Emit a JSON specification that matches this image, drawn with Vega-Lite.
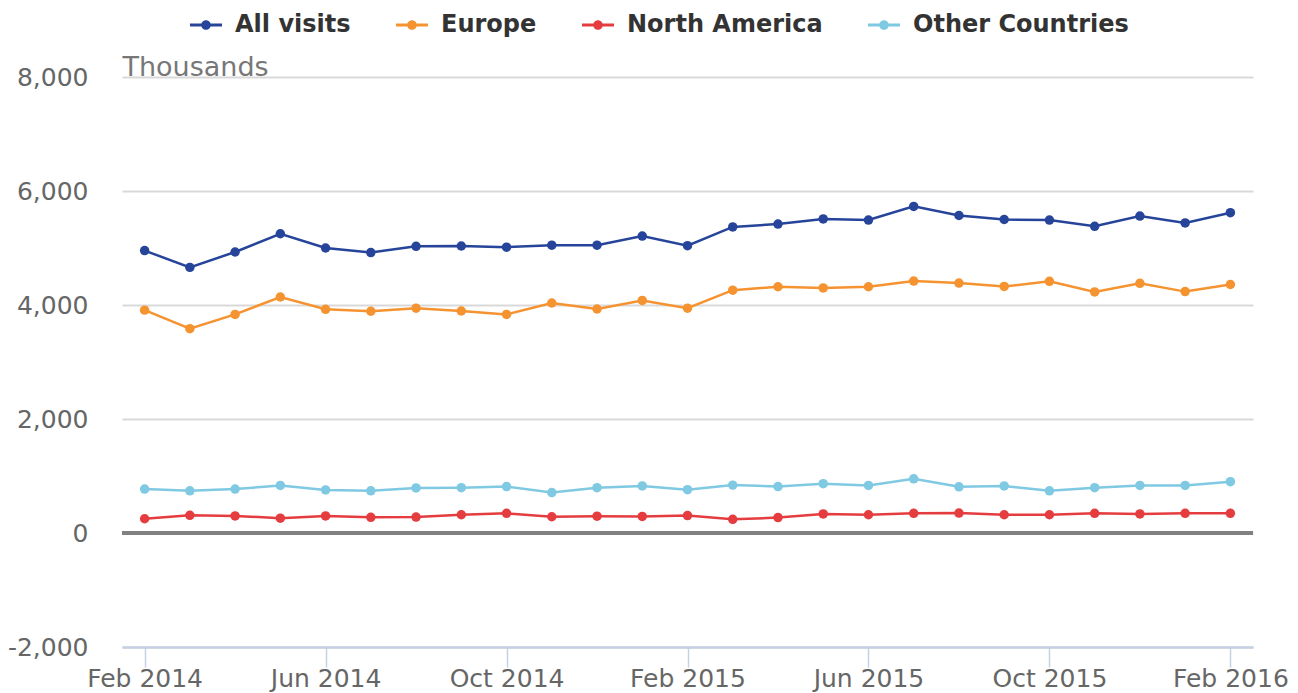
{
  "$schema": "https://vega.github.io/schema/vega-lite/v6.json",
  "width": 1131,
  "height": 570,
  "autosize": "none",
  "padding": {"left": 122, "top": 77, "right": 45, "bottom": 46},
  "config": {
    "font": "DejaVu Sans",
    "view": {"stroke": null}
  },
  "datasets": {
    "visits": [
      {"month": "Feb 2014", "series": "All visits", "value": 4955},
      {"month": "Mar 2014", "series": "All visits", "value": 4660},
      {"month": "Apr 2014", "series": "All visits", "value": 4930},
      {"month": "May 2014", "series": "All visits", "value": 5250},
      {"month": "Jun 2014", "series": "All visits", "value": 5000},
      {"month": "Jul 2014", "series": "All visits", "value": 4920},
      {"month": "Aug 2014", "series": "All visits", "value": 5030},
      {"month": "Sep 2014", "series": "All visits", "value": 5035},
      {"month": "Oct 2014", "series": "All visits", "value": 5015},
      {"month": "Nov 2014", "series": "All visits", "value": 5050},
      {"month": "Dec 2014", "series": "All visits", "value": 5050},
      {"month": "Jan 2015", "series": "All visits", "value": 5210},
      {"month": "Feb 2015", "series": "All visits", "value": 5040},
      {"month": "Mar 2015", "series": "All visits", "value": 5370},
      {"month": "Apr 2015", "series": "All visits", "value": 5420},
      {"month": "May 2015", "series": "All visits", "value": 5510},
      {"month": "Jun 2015", "series": "All visits", "value": 5490},
      {"month": "Jul 2015", "series": "All visits", "value": 5730},
      {"month": "Aug 2015", "series": "All visits", "value": 5570},
      {"month": "Sep 2015", "series": "All visits", "value": 5500},
      {"month": "Oct 2015", "series": "All visits", "value": 5490},
      {"month": "Nov 2015", "series": "All visits", "value": 5380},
      {"month": "Dec 2015", "series": "All visits", "value": 5560},
      {"month": "Jan 2016", "series": "All visits", "value": 5440},
      {"month": "Feb 2016", "series": "All visits", "value": 5620},
      {"month": "Feb 2014", "series": "Europe", "value": 3910},
      {"month": "Mar 2014", "series": "Europe", "value": 3585},
      {"month": "Apr 2014", "series": "Europe", "value": 3835},
      {"month": "May 2014", "series": "Europe", "value": 4140},
      {"month": "Jun 2014", "series": "Europe", "value": 3925},
      {"month": "Jul 2014", "series": "Europe", "value": 3890},
      {"month": "Aug 2014", "series": "Europe", "value": 3945},
      {"month": "Sep 2014", "series": "Europe", "value": 3895},
      {"month": "Oct 2014", "series": "Europe", "value": 3835},
      {"month": "Nov 2014", "series": "Europe", "value": 4035},
      {"month": "Dec 2014", "series": "Europe", "value": 3930},
      {"month": "Jan 2015", "series": "Europe", "value": 4080},
      {"month": "Feb 2015", "series": "Europe", "value": 3945},
      {"month": "Mar 2015", "series": "Europe", "value": 4260},
      {"month": "Apr 2015", "series": "Europe", "value": 4320},
      {"month": "May 2015", "series": "Europe", "value": 4300},
      {"month": "Jun 2015", "series": "Europe", "value": 4320},
      {"month": "Jul 2015", "series": "Europe", "value": 4420},
      {"month": "Aug 2015", "series": "Europe", "value": 4385},
      {"month": "Sep 2015", "series": "Europe", "value": 4325},
      {"month": "Oct 2015", "series": "Europe", "value": 4415},
      {"month": "Nov 2015", "series": "Europe", "value": 4230},
      {"month": "Dec 2015", "series": "Europe", "value": 4380},
      {"month": "Jan 2016", "series": "Europe", "value": 4235},
      {"month": "Feb 2016", "series": "Europe", "value": 4360},
      {"month": "Feb 2014", "series": "North America", "value": 250},
      {"month": "Mar 2014", "series": "North America", "value": 310},
      {"month": "Apr 2014", "series": "North America", "value": 300},
      {"month": "May 2014", "series": "North America", "value": 260},
      {"month": "Jun 2014", "series": "North America", "value": 300},
      {"month": "Jul 2014", "series": "North America", "value": 275},
      {"month": "Aug 2014", "series": "North America", "value": 280},
      {"month": "Sep 2014", "series": "North America", "value": 320},
      {"month": "Oct 2014", "series": "North America", "value": 345},
      {"month": "Nov 2014", "series": "North America", "value": 285},
      {"month": "Dec 2014", "series": "North America", "value": 295},
      {"month": "Jan 2015", "series": "North America", "value": 290},
      {"month": "Feb 2015", "series": "North America", "value": 305},
      {"month": "Mar 2015", "series": "North America", "value": 240},
      {"month": "Apr 2015", "series": "North America", "value": 270},
      {"month": "May 2015", "series": "North America", "value": 335},
      {"month": "Jun 2015", "series": "North America", "value": 320},
      {"month": "Jul 2015", "series": "North America", "value": 345},
      {"month": "Aug 2015", "series": "North America", "value": 350},
      {"month": "Sep 2015", "series": "North America", "value": 320},
      {"month": "Oct 2015", "series": "North America", "value": 320},
      {"month": "Nov 2015", "series": "North America", "value": 345},
      {"month": "Dec 2015", "series": "North America", "value": 335},
      {"month": "Jan 2016", "series": "North America", "value": 345},
      {"month": "Feb 2016", "series": "North America", "value": 345},
      {"month": "Feb 2014", "series": "Other Countries", "value": 770},
      {"month": "Mar 2014", "series": "Other Countries", "value": 740},
      {"month": "Apr 2014", "series": "Other Countries", "value": 770},
      {"month": "May 2014", "series": "Other Countries", "value": 835},
      {"month": "Jun 2014", "series": "Other Countries", "value": 755},
      {"month": "Jul 2014", "series": "Other Countries", "value": 740},
      {"month": "Aug 2014", "series": "Other Countries", "value": 790},
      {"month": "Sep 2014", "series": "Other Countries", "value": 795},
      {"month": "Oct 2014", "series": "Other Countries", "value": 815},
      {"month": "Nov 2014", "series": "Other Countries", "value": 710},
      {"month": "Dec 2014", "series": "Other Countries", "value": 795},
      {"month": "Jan 2015", "series": "Other Countries", "value": 825},
      {"month": "Feb 2015", "series": "Other Countries", "value": 760},
      {"month": "Mar 2015", "series": "Other Countries", "value": 840},
      {"month": "Apr 2015", "series": "Other Countries", "value": 815},
      {"month": "May 2015", "series": "Other Countries", "value": 865},
      {"month": "Jun 2015", "series": "Other Countries", "value": 835},
      {"month": "Jul 2015", "series": "Other Countries", "value": 950},
      {"month": "Aug 2015", "series": "Other Countries", "value": 810},
      {"month": "Sep 2015", "series": "Other Countries", "value": 825},
      {"month": "Oct 2015", "series": "Other Countries", "value": 740},
      {"month": "Nov 2015", "series": "Other Countries", "value": 795},
      {"month": "Dec 2015", "series": "Other Countries", "value": 835},
      {"month": "Jan 2016", "series": "Other Countries", "value": 835},
      {"month": "Feb 2016", "series": "Other Countries", "value": 900}
    ],
    "zero": [{"y": 0}]
  },
  "layer": [
    {
      "data": {"name": "visits"},
      "mark": {"type": "line", "strokeWidth": 2.5, "point": {"filled": true, "size": 90, "opacity": 1}},
      "encoding": {
        "x": {
          "field": "month",
          "type": "ordinal",
          "scale": {
            "type": "point",
            "padding": 0.5,
            "domain": ["Feb 2014","Mar 2014","Apr 2014","May 2014","Jun 2014","Jul 2014","Aug 2014","Sep 2014","Oct 2014","Nov 2014","Dec 2014","Jan 2015","Feb 2015","Mar 2015","Apr 2015","May 2015","Jun 2015","Jul 2015","Aug 2015","Sep 2015","Oct 2015","Nov 2015","Dec 2015","Jan 2016","Feb 2016"]
          },
          "axis": {
            "title": null,
            "values": ["Feb 2014","Jun 2014","Oct 2014","Feb 2015","Jun 2015","Oct 2015","Feb 2016"],
            "labelAngle": 0,
            "labelFontSize": 25,
            "labelColor": "#666666",
            "labelPadding": 11,
            "labelBaseline": "middle",
            "domainColor": "#c5d1e2",
            "domainWidth": 2.5,
            "tickColor": "#c5d1e2",
            "tickWidth": 1.5,
            "tickSize": 20,
            "grid": false,
            "labelOverlap": false
          }
        },
        "y": {
          "field": "value",
          "type": "quantitative",
          "scale": {"domain": [-2000, 8000], "nice": false, "zero": false},
          "axis": {
            "title": "Thousands",
            "titleAngle": 0,
            "titleX": 0,
            "titleY": -2,
            "titleAlign": "left",
            "titleBaseline": "alphabetic",
            "titleFontSize": 27,
            "titleFontWeight": "normal",
            "titleColor": "#777777",
            "values": [-2000, 0, 2000, 4000, 6000, 8000],
            "labelExpr": "replace(format(datum.value, ',.0f'), '\u2212', '-')",
            "labelFontSize": 25,
            "labelColor": "#666666",
            "labelPadding": 34,
            "ticks": false,
            "domain": false,
            "grid": true,
            "gridColor": "#d9d9d9",
            "gridWidth": 2
          }
        },
        "color": {
          "field": "series",
          "type": "nominal",
          "scale": {
            "domain": ["All visits", "Europe", "North America", "Other Countries"],
            "range": ["#26449a", "#f59331", "#e53d3f", "#7fc9e2"]
          },
          "legend": {
            "title": null,
            "orient": "none",
            "direction": "horizontal",
            "legendX": 68,
            "legendY": -68,
            "labelFontSize": 24,
            "labelFontWeight": "bold",
            "labelColor": "#333333",
            "labelOffset": 13,
            "labelLimit": 500,
            "columnPadding": 45,
            "symbolSize": 1024,
            "symbolType": "M-1,-0.09L1,-0.09L1,0.09L-1,0.09Z M0.3,0A0.3,0.3 0 1,1 -0.3,0A0.3,0.3 0 1,1 0.3,0Z",
            "encode": {
              "symbols": {
                "update": {
                  "fill": {"scale": "color", "field": "value"},
                  "stroke": {"value": "transparent"},
                  "strokeWidth": {"value": 0},
                  "opacity": {"value": 1}
                }
              }
            }
          }
        }
      }
    },
    {
      "data": {"name": "zero"},
      "mark": {"type": "rule", "color": "#808080", "strokeWidth": 4},
      "encoding": {
        "y": {"field": "y", "type": "quantitative"}
      }
    }
  ]
}
